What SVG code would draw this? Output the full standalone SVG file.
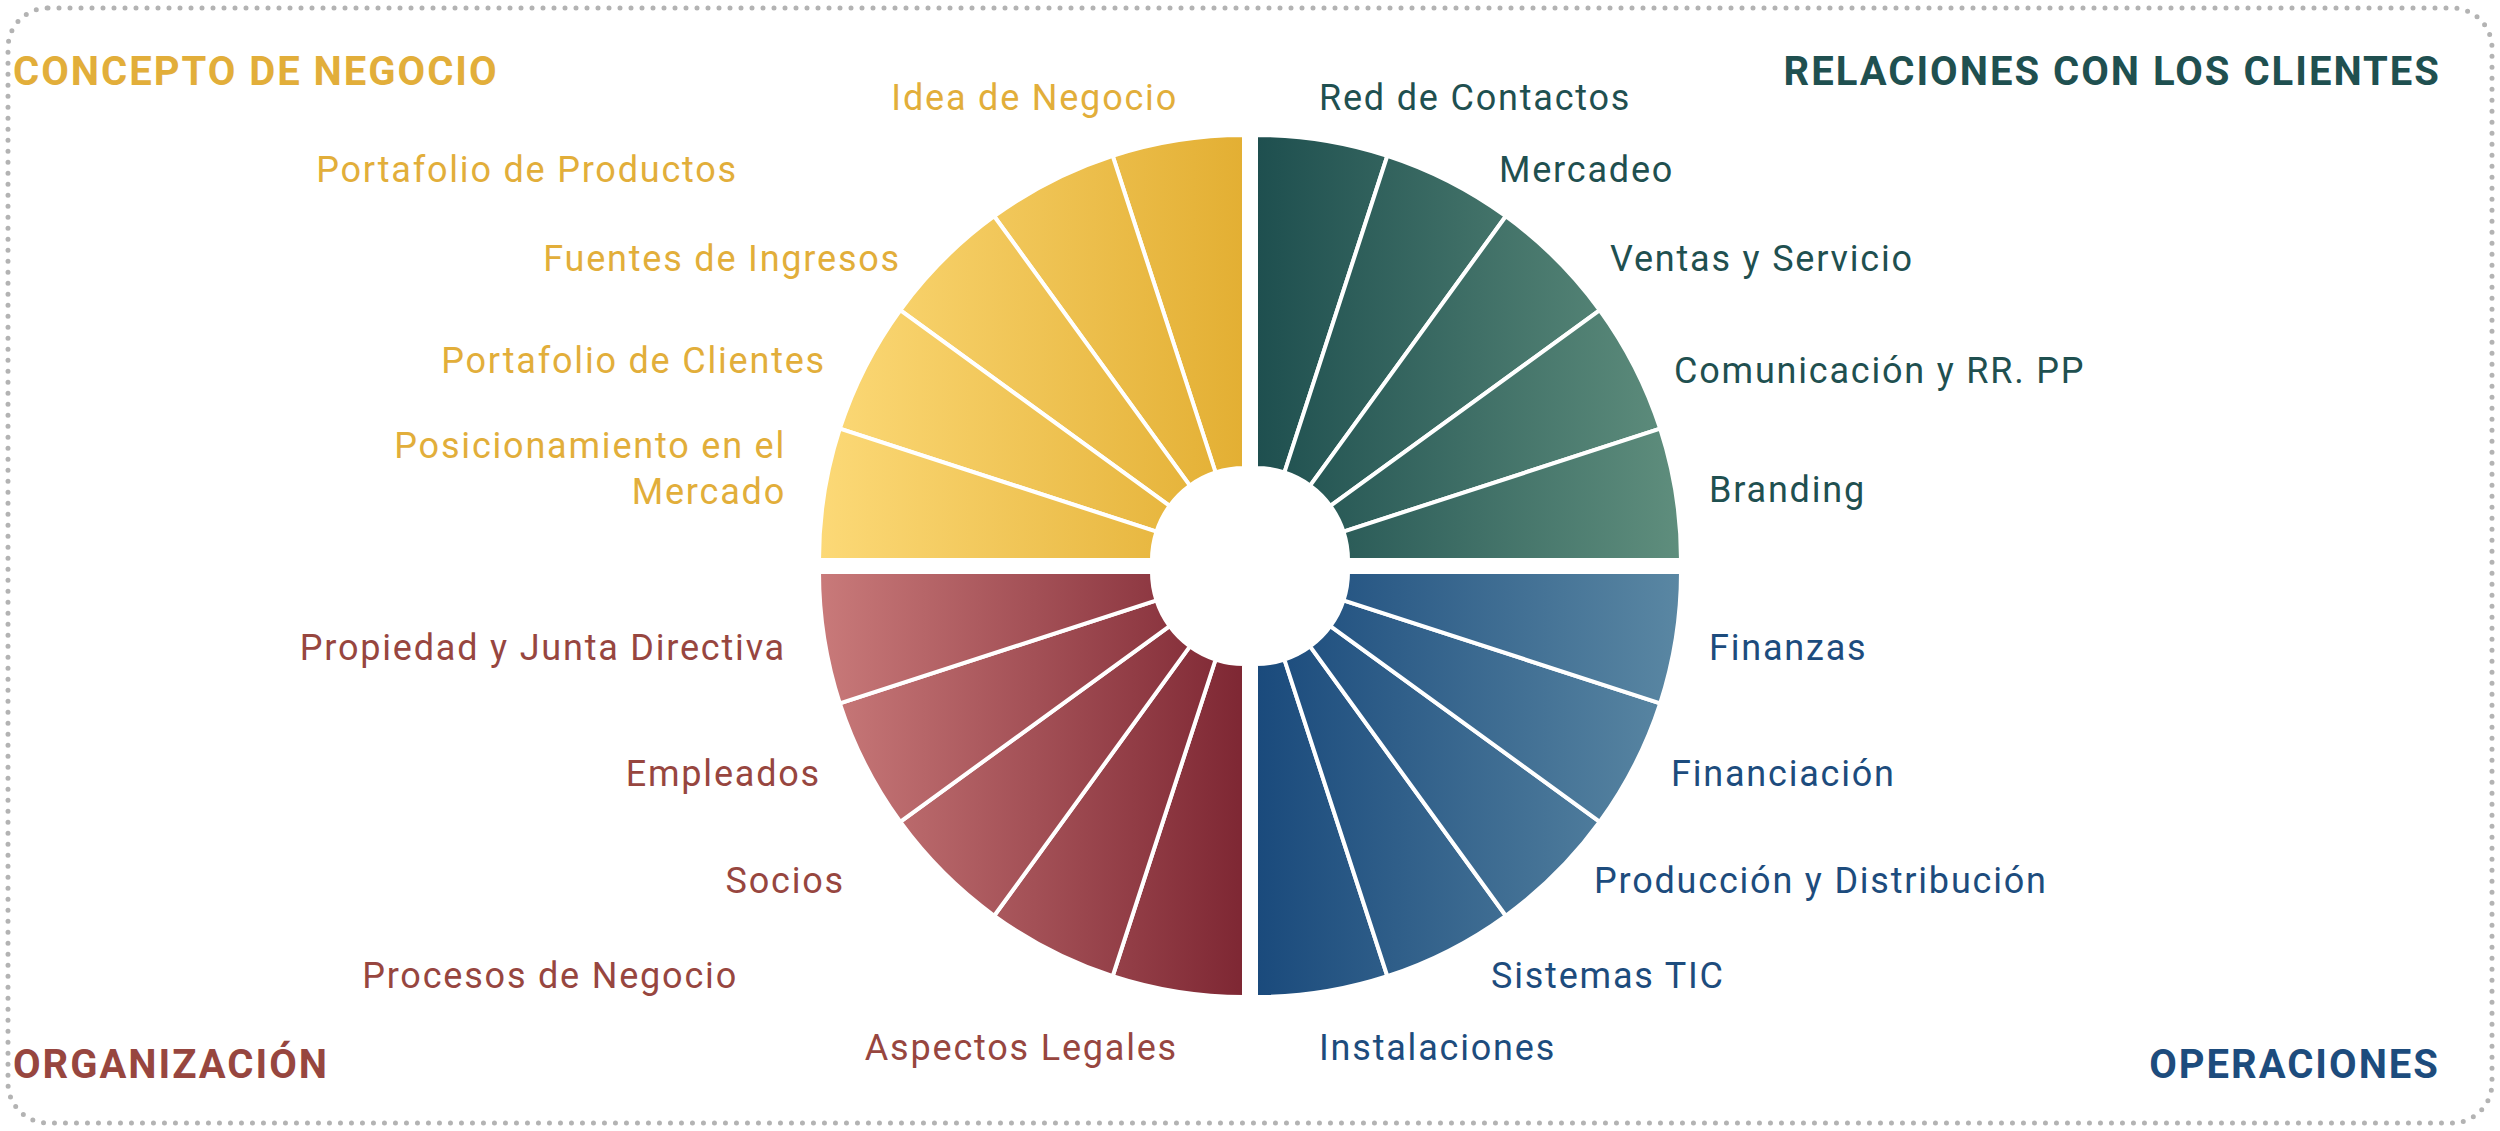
<svg xmlns="http://www.w3.org/2000/svg" xmlns:xlink="http://www.w3.org/1999/xlink" width="2500" height="1131" viewBox="0 0 2500 1131">
<style>
text{font-family:Roboto,"Liberation Sans",sans-serif;font-size:36px;letter-spacing:1.8px}
.t{font-size:40px;font-weight:bold;letter-spacing:2px}
.y{fill:#E2AE3A}.g{fill:#1F5050}.r{fill:#97463F}.b{fill:#1D4C7D}
.e{text-anchor:end}
.w{stroke:#fff;stroke-width:4;stroke-linejoin:round}
</style>
<defs>
<linearGradient id="gy" gradientUnits="userSpaceOnUse" x1="0" y1="0" x2="425" y2="0"><stop offset="0" stop-color="#E3AF33"/><stop offset="1" stop-color="#FCD977"/></linearGradient>
<linearGradient id="gg" gradientUnits="userSpaceOnUse" x1="0" y1="0" x2="425" y2="0"><stop offset="0" stop-color="#1E4F4F"/><stop offset="1" stop-color="#5F8E7D"/></linearGradient>
<linearGradient id="gr" gradientUnits="userSpaceOnUse" x1="0" y1="0" x2="425" y2="0"><stop offset="0" stop-color="#7E2733"/><stop offset="1" stop-color="#C97A7A"/></linearGradient>
<linearGradient id="gb" gradientUnits="userSpaceOnUse" x1="0" y1="0" x2="425" y2="0"><stop offset="0" stop-color="#1A4A7C"/><stop offset="1" stop-color="#5A87A3"/></linearGradient>
<g id="q" class="w">
<path d="M0,-92L0,-425A425,425 0 0 1 131.3,-404.2L28.4,-87.5A92,92 0 0 0 0,-92Z"/>
<path d="M28.4,-87.5L131.3,-404.2A425,425 0 0 1 249.8,-343.8L54.1,-74.4A92,92 0 0 0 28.4,-87.5Z"/>
<path d="M54.1,-74.4L249.8,-343.8A425,425 0 0 1 343.8,-249.8L74.4,-54.1A92,92 0 0 0 54.1,-74.4Z"/>
<path d="M74.4,-54.1L343.8,-249.8A425,425 0 0 1 404.2,-131.3L87.5,-28.4A92,92 0 0 0 74.4,-54.1Z"/>
<path d="M87.5,-28.4L404.2,-131.3A425,425 0 0 1 425,0L92,0A92,92 0 0 0 87.5,-28.4Z"/>
</g>
</defs>
<rect x="8" y="8" width="2484" height="1115" rx="40" fill="none" stroke="#B3B3B3" stroke-width="5" stroke-dasharray="0 11" stroke-linecap="round"/>
<g id="wheel">
<use xlink:href="#q" href="#q" fill="url(#gg)" transform="translate(1256,560)"/>
<use xlink:href="#q" href="#q" fill="url(#gy)" transform="translate(1244,560) scale(-1,1)"/>
<use xlink:href="#q" href="#q" fill="url(#gb)" transform="translate(1256,572) scale(1,-1)"/>
<use xlink:href="#q" href="#q" fill="url(#gr)" transform="translate(1244,572) scale(-1,-1)"/>
</g>
<g id="titles">
<text class="t y" x="13" y="85">CONCEPTO DE NEGOCIO</text>
<text class="t g e" x="2441" y="85">RELACIONES CON LOS CLIENTES</text>
<text class="t r" x="13" y="1078">ORGANIZACIÓN</text>
<text class="t b e" x="2440" y="1078">OPERACIONES</text>
</g>
<g id="concepto" class="y e">
<text class="y e" x="1178" y="110">Idea de Negocio</text>
<text class="y e" x="738" y="182">Portafolio de Productos</text>
<text class="y e" x="901" y="271">Fuentes de Ingresos</text>
<text class="y e" x="826" y="373">Portafolio de Clientes</text>
<text class="y e" x="786" y="458">Posicionamiento en el</text>
<text class="y e" x="786" y="504">Mercado</text>
</g>
<g id="relaciones">
<text class="g" x="1319" y="110">Red de Contactos</text>
<text class="g" x="1499" y="182">Mercadeo</text>
<text class="g" x="1610" y="271">Ventas y Servicio</text>
<text class="g" x="1674" y="383">Comunicación y RR. PP</text>
<text class="g" x="1709" y="502">Branding</text>
</g>
<g id="operaciones">
<text class="b" x="1709" y="660">Finanzas</text>
<text class="b" x="1671" y="786">Financiación</text>
<text class="b" x="1594" y="893">Producción y Distribución</text>
<text class="b" x="1491" y="988">Sistemas TIC</text>
<text class="b" x="1319" y="1060">Instalaciones</text>
</g>
<g id="organizacion">
<text class="r e" x="786" y="660">Propiedad y Junta Directiva</text>
<text class="r e" x="821" y="786">Empleados</text>
<text class="r e" x="845" y="893">Socios</text>
<text class="r e" x="738" y="988">Procesos de Negocio</text>
<text class="r e" x="1178" y="1060">Aspectos Legales</text>
</g>
</svg>
